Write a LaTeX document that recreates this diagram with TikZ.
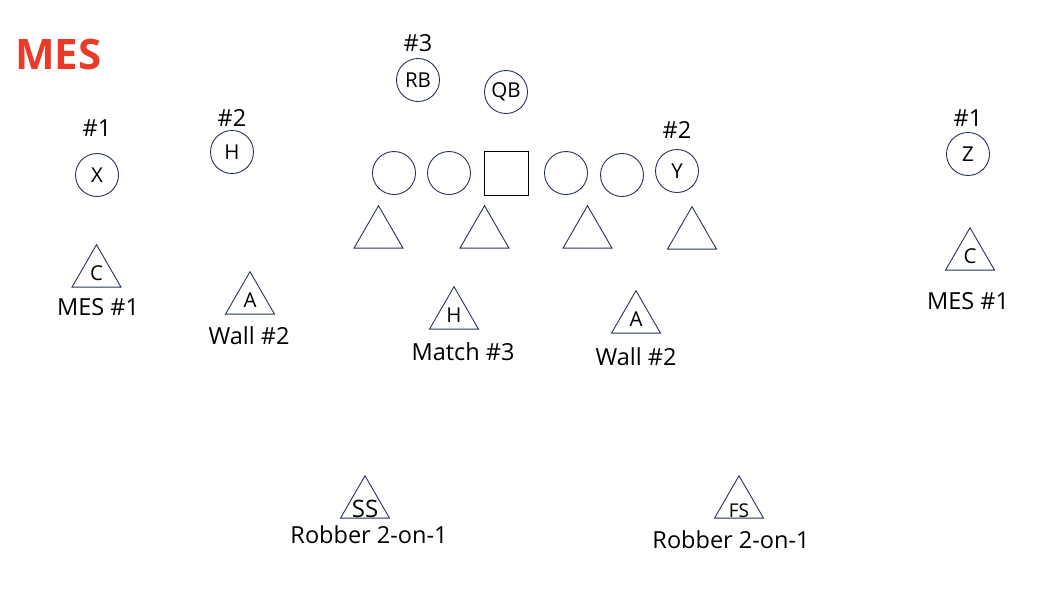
\documentclass[tikz,border=0pt]{standalone}
\usepackage{fontspec}
\setmainfont{Open Sans}
\usepackage{xcolor}
\usetikzlibrary{shapes.geometric}

\definecolor{navyline}{RGB}{40,52,88}
\definecolor{titlered}{RGB}{234,58,40}

\begin{document}
\begin{tikzpicture}[
  x=1pt, y=-1pt,
  player/.style={circle, draw=navyline, line width=0.9pt, minimum size=43pt, inner sep=0pt,
    font=\fontsize{20.5}{21}\selectfont},
  oline/.style={player},
  center/.style={rectangle, draw=black, line width=0.9pt, minimum size=44pt, inner sep=0pt},
  defender/.style={regular polygon, regular polygon sides=3, draw=navyline, line width=0.9pt,
    minimum size=56.6pt, inner sep=0pt, font=\fontsize{20.5}{21}\selectfont},
  tag/.style={font=\fontsize{23.5}{25}\selectfont, inner sep=0pt},
  title/.style={font=\bfseries\fontsize{42}{44}\selectfont, text=titlered, inner sep=0pt}
]
  \useasboundingbox (0,0) rectangle (1058,598);

  \node[title] (mes) at (58.5,54) {MES};

  % offense
  \node[player] (x) at (97,175) {X};
  \node[player] (h) at (232,152) {H};
  \node[player] (rb) at (418,80) {RB};
  \node[player] (qb) at (506,92) {QB};
  \node[player] (y) at (677,171) {Y};
  \node[player] (z) at (968,154) {Z};
  \foreach \name/\px/\py in {lt/394/173, lg/449/173, rg/566/173, rt/622/175} {
    \node[oline] (\name) at (\px,\py) {};
  }
  \node[center] (c) at (506,173) {};

  % receiver numbers
  \node[tag] (nx) at (97,128) {\#1};
  \node[tag] (nh) at (232,118) {\#2};
  \node[tag] (nrb) at (418,43) {\#3};
  \node[tag] (ny) at (677,130) {\#2};
  \node[tag] (nz) at (968,118) {\#1};

  % front
  \foreach \name/\px/\py in {dl1/378.5/234, dl2/484.5/234, dl3/587.5/234, dl4/692/235} {
    \node[defender] (\name) at (\px,\py) {};
  }

  % second level
  \node[defender] (cl) at (96.5,273) {C};
  \node[defender] (al) at (250,300) {A};
  \node[defender] (hm) at (454,315) {H};
  \node[defender] (ar) at (636,319) {A};
  \node[defender] (cr) at (970,256) {C};
  \node[defender, label={[font=\fontsize{24}{25}\selectfont, inner sep=0pt, yshift=-5pt]center:SS}] (ss) at (365,504) {};
  \node[defender, label={[font=\fontsize{19}{20}\selectfont, inner sep=0pt, yshift=-7pt]center:FS}] (fs) at (739,504) {};

  % calls
  \node[tag] (tcl) at (98,307) {MES \#1};
  \node[tag] (tal) at (249,336) {Wall \#2};
  \node[tag] (thm) at (463,352) {Match \#3};
  \node[tag] (tar) at (636,357) {Wall \#2};
  \node[tag] (tcr) at (968,301) {MES \#1};
  \node[tag] (tss) at (369,535) {Robber 2-on-1};
  \node[tag] (tfs) at (731,540) {Robber 2-on-1};
\end{tikzpicture}
\end{document}
